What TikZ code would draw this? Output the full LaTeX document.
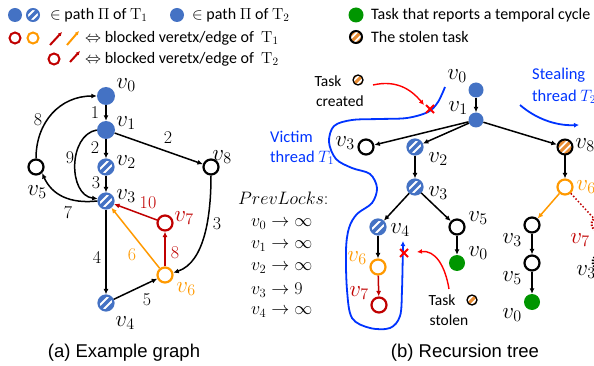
\RequirePackage{fix-cm}
\documentclass[tikz,border=0pt]{standalone}
\usepackage[no-math]{fontspec}
\newfontfamily\calib{Carlito}
\newfontfamily\arial{Liberation Sans}
\usetikzlibrary{arrows.meta}
\definecolor{nblue}{RGB}{68,114,196}
\definecolor{orng}{RGB}{255,153,0}
\definecolor{dred}{RGB}{192,0,0}
\definecolor{grn}{RGB}{0,150,0}
\definecolor{hor}{RGB}{232,140,50}
\definecolor{vblue}{RGB}{0,51,255}
\newcommand\hatchpic[3]{%
 \draw[#1,line width=#3] ([shift={(#2-7pt,-#2-7pt)}]path picture bounding box.center) -- ([shift={(#2+7pt,-#2+7pt)}]path picture bounding box.center);
 \draw[#1,line width=#3] ([shift={(-#2-7pt,#2-7pt)}]path picture bounding box.center) -- ([shift={(-#2+7pt,#2+7pt)}]path picture bounding box.center);}
\tikzset{
 bnd/.style={circle,fill=nblue,minimum size=#1,inner sep=0pt},
 bnd/.default=18pt,
 gnd/.style={circle,fill=grn,minimum size=16pt,inner sep=0pt},
 hbl/.style={circle,draw=nblue,fill=nblue,line width=2.2pt,minimum size=#1,inner sep=0pt,path picture={\hatchpic{white}{2pt}{2.1pt}}},
 hbl/.default=15pt,
 hob/.style={circle,draw=black,fill=hor,line width=2pt,minimum size=#1,inner sep=0pt,path picture={\hatchpic{white}{1.8pt}{1.7pt}}},
 hob/.default=15pt,
 ond/.style={circle,draw=#1,fill=white,line width=2.2pt,minimum size=15pt,inner sep=0pt},
 ond/.default=black,
 ed/.style={line width=1.5pt,-{Latex[length=5.5pt,width=5pt]}},
 vl/.style={font=\fontsize{23}{26}\selectfont,inner sep=0pt},
 el/.style={font=\fontsize{18}{20}\selectfont,inner sep=0pt},
 lg/.style={font=\calib\fontsize{16}{19}\selectfont,inner sep=0pt,anchor=west},
 ann/.style={font=\calib\fontsize{15.5}{18}\selectfont,inner sep=0pt},
 thr/.style={font=\calib\fontsize{16.5}{19}\selectfont,text=vblue,inner sep=0pt,anchor=west},
 captxt/.style={font=\arial\fontsize{18.5}{22}\selectfont,inner sep=0pt},
 pl/.style={font=\fontsize{18}{21}\selectfont,inner sep=0pt,anchor=west},
 xmk/.style={red,line width=2pt},
}
\begin{document}
\begin{tikzpicture}[x=1pt,y=-1pt]
\useasboundingbox (0,0) rectangle (594,366);
\clip (0,0) rectangle (594,366);
% ---------- legend ----------
\node[bnd=14pt] (lg1) at (15,15) {};
\node[hbl=12pt,line width=2pt] (lg2) at (33,15) {};
\node[lg] (lt1) at (50,15) {$\in$ path $\Pi$ of $\mathrm{T}_1$};
\node[bnd=14pt] (lg3) at (177,15) {};
\node[lg] (lt2) at (192,15) {$\in$ path $\Pi$ of $\mathrm{T}_2$};
\node[ond=dred,minimum size=11pt,line width=2pt] (lg4) at (15,38) {};
\node[ond=orng,minimum size=11pt,line width=2pt] (lg5) at (33,38) {};
\coordinate (la1s) at (50,45); \coordinate (la1e) at (62,32);
\draw[dred,line width=2pt,-{Latex[length=4pt,width=4pt]}] (la1s) -- (la1e);
\coordinate (la2s) at (67,45); \coordinate (la2e) at (79,31);
\draw[orng,line width=2pt,-{Latex[length=4pt,width=4pt]}] (la2s) -- (la2e);
\node[lg] (lt3) at (85,38) {$\Leftrightarrow$ blocked veretx/edge of\ \ $\mathrm{T}_1$};
\node[ond=dred,minimum size=11pt,line width=2pt] (lg6) at (54,59) {};
\coordinate (la3s) at (70,62); \coordinate (la3e) at (80,51);
\draw[dred,line width=2pt,-{Latex[length=4pt,width=4pt]}] (la3s) -- (la3e);
\node[lg] (lt4) at (85,59) {$\Leftrightarrow$ blocked veretx/edge of\ \ $\mathrm{T}_2$};
\node[gnd,minimum size=15pt] (lg7) at (356,15) {};
\node[lg] (lt5) at (371,15) {Task that reports a temporal cycle};
\node[hob=12pt] (lg8) at (356,37) {};
\node[lg] (lt6) at (371,37) {The stolen task};
% ---------- (a) example graph ----------
\node[bnd] (a0) at (106,96) {};
\node[bnd] (a1) at (106,130) {};
\node[hbl] (a2) at (106,167) {};
\node[hbl] (a3) at (106,201) {};
\node[hbl] (a4) at (106,303) {};
\node[ond] (a5) at (36,167) {};
\node[ond] (a8) at (211,167) {};
\node[ond=dred] (a7) at (165,223) {};
\node[ond=orng] (a6) at (165,275) {};
\node[vl] at (126,85) {$v_0$};
\node[vl] at (126,123) {$v_1$};
\node[vl] at (126,162) {$v_2$};
\node[vl] at (126,196) {$v_3$};
\node[vl] at (125,323) {$v_4$};
\node[vl] at (37,192) {$v_5$};
\node[vl,text=orng] at (186,289) {$v_6$};
\node[vl,text=dred] at (184,218) {$v_7$};
\node[vl] at (222,157) {$v_8$};
\draw[ed] (a0) -- (a1);
\draw[ed] (a1) -- (a2);
\draw[ed] (a2) -- (a3);
\draw[ed] (a3) -- (a4);
\draw[ed] (a1) -- (a8);
\draw[ed] (a1.180) .. controls (68,135) and (68,195) .. (a3.165);
\draw[ed] (a3.180) .. controls (70,204) and (52,195) .. (a5.-45);
\draw[ed] (a5.90) .. controls (36,122) and (60,96) .. (a0.180);
\draw[ed] (a8.-90) .. controls (211,215) and (205,262) .. (a6.15);
\draw[ed] (a4) -- (a6);
\draw[ed,orng] (a6) -- (a3);
\draw[ed,dred] (a6) -- (a7);
\draw[ed,dred] (a7) -- (a3);
\node[el] at (95,113) {1};
\node[el] at (95,148) {2};
\node[el] at (96,183) {3};
\node[el] at (168,138) {2};
\node[el] at (70,158) {9};
\node[el] at (38,120) {8};
\node[el] at (68,213) {7};
\node[el,text=dred] at (148,203) {10};
\node[el] at (217,224) {3};
\node[el] at (97,257) {4};
\node[el,text=orng] at (132,255) {6};
\node[el,text=dred] at (175,253) {8};
\node[el] at (147,300) {5};
\node[captxt] at (124,353) {(a) Example graph};
% ---------- PrevLocks ----------
\node[pl] (p0) at (238,198) {$PrevLocks$:};
\node[pl] (p1) at (251,224) {$v_0\to\infty$};
\node[pl] (p2) at (251,246) {$v_1\to\infty$};
\node[pl] (p3) at (251,268) {$v_2\to\infty$};
\node[pl] (p4) at (251,290) {$v_3\to 9$};
\node[pl] (p5) at (251,312) {$v_4\to\infty$};
% ---------- (b) recursion tree ----------
\node[bnd=15pt] (t0) at (476,90) {};
\node[bnd=15pt] (t1) at (476,120) {};
\node[ond] (t3a) at (366,147) {};
\node[hbl] (t2) at (415,147) {};
\node[hbl] (t3) at (415,187) {};
\node[hbl] (t4) at (378,227) {};
\node[ond] (t5) at (457,227) {};
\node[gnd] (t0g) at (457,263) {};
\node[ond=orng] (t6) at (378,267) {};
\node[ond=dred] (t7) at (379,305) {};
\node[hob] (t8) at (565,147) {};
\node[ond=orng] (t6b) at (565,187) {};
\node[ond] (t3c) at (532,225) {};
\node[ond] (t5c) at (532,263) {};
\node[gnd] (t0c) at (532,302) {};
\node[circle,draw=dred,line width=2pt,dash pattern=on 1.5pt off 1.5pt,minimum size=15pt,inner sep=0pt] (t7d) at (599,224) {};
\node[circle,draw=black,line width=2pt,dash pattern=on 1.5pt off 1.5pt,minimum size=15pt,inner sep=0pt] (t3d) at (600,262) {};
\draw[ed] (t0) -- (t1);
\draw[ed] (t1) -- (t3a);
\draw[ed] (t1) -- (t2);
\draw[ed] (t1) -- (t8);
\draw[ed] (t2) -- (t3);
\draw[ed] (t3) -- (t4);
\draw[ed] (t3) -- (t5);
\draw[ed] (t4) -- (t6);
\draw[ed,dred] (t6) -- (t7);
\draw[ed] (t5) -- (t0g);
\draw[ed] (t8) -- (t6b);
\draw[ed,orng] (t6b) -- (t3c);
\draw[ed] (t3c) -- (t5c);
\draw[ed] (t5c) -- (t0c);
\draw[dred,line width=1.5pt,dash pattern=on 1.5pt off 2pt] (t6b) -- (t7d);
\draw[line width=1.5pt,dash pattern=on 1.5pt off 2pt] (t7d) -- (t3d);
\node[vl] at (457,76) {$v_0$};
\node[vl] at (458,108) {$v_1$};
\node[vl] at (345,143) {$v_3$};
\node[vl] at (438,159) {$v_2$};
\node[vl] at (438,193) {$v_3$};
\node[vl] at (400,230) {$v_4$};
\node[vl] at (478,218) {$v_5$};
\node[vl] at (478,253) {$v_0$};
\node[vl,text=orng] at (357,258) {$v_6$};
\node[vl,text=dred] at (359,293) {$v_7$};
\node[vl] at (585,145) {$v_8$};
\node[vl,text=orng] at (586,187) {$v_6$};
\node[vl] at (512,240) {$v_3$};
\node[vl] at (512,278) {$v_5$};
\node[vl] at (512,315) {$v_0$};
\node[vl,text=dred] at (580,240) {$v_7$};
\node[vl] at (586,272) {$v_3$};
% victim thread curve
\draw[vblue,line width=1.8pt,-{Latex[length=5pt,width=5pt]}] plot[smooth,tension=0.55] coordinates {(445,87) (438,102) (428,112) (407,118) (380,119) (352,120) (334,126) (329,142) (336,159) (352,168) (370,174) (377,188) (372,203) (357,214) (349,228) (346,250) (347,290) (352,318) (370,328) (390,328) (400,316) (402,290) (403,241)};
\node[thr] (vt1) at (270,137) {Victim};
\node[thr] (vt2) at (270,158) {thread $T_1$};
% stealing thread
\node[thr] (st1) at (532,75) {Stealing};
\node[thr] (st2) at (532,97) {thread $T_2$};
\coordinate (sa) at (520,105); \coordinate (sb) at (579,125);
\draw[vblue,line width=1.8pt,-{Latex[length=5pt,width=5pt]}] (sa) .. controls (535,118) and (555,126) .. (sb);
% task created
\node[ann] (tc1) at (328,81) {Task};
\node[ann] (tc2) at (340,101) {created};
\node[hob=10pt,line width=1.3pt] (tci) at (358,80) {};
\coordinate (tca) at (373,85); \coordinate (tcb) at (424,105);
\draw[red,line width=1.4pt,-{Latex[length=5pt,width=5pt]}] (tca) .. controls (395,80) and (410,88) .. (tcb);
\coordinate (x1) at (430,109);
\draw[xmk] (x1) +(-4,-4) -- +(4,4) +(-4,4) -- +(4,-4);
% task stolen
\node[ann] (ts1) at (442,300) {Task};
\node[ann] (ts2) at (449,320) {stolen};
\node[hob=10pt,line width=1.3pt] (tsi) at (472,300) {};
\coordinate (tsa) at (449,289); \coordinate (tsb) at (417,252);
\draw[red,line width=1.4pt,-{Latex[length=5pt,width=5pt]}] (tsa) .. controls (445,265) and (435,250) .. (tsb);
\coordinate (x2) at (404,253);
\draw[xmk] (x2) +(-4,-4) -- +(4,4) +(-4,4) -- +(4,-4);
\node[captxt] at (465,353) {(b) Recursion tree};
\end{tikzpicture}
\end{document}
